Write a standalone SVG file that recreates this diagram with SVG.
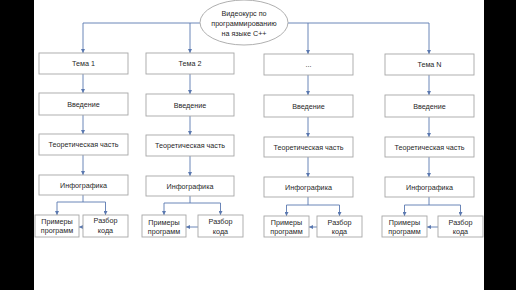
<svg xmlns="http://www.w3.org/2000/svg" width="516" height="290" viewBox="0 0 516 290">
<style>
.box{fill:#fff;stroke:#a6a6a6;stroke-width:0.9}
.t{font-family:"Liberation Sans",Arial,sans-serif;font-size:7.2px;fill:#1f1f1f;text-anchor:middle}
.c{fill:none;stroke:#5a78b0;stroke-width:0.9}
</style>
<defs>
<marker id="ah" viewBox="0 0 6 6" refX="6" refY="3" markerWidth="4" markerHeight="4" orient="auto" markerUnits="userSpaceOnUse">
<path d="M0,0 L6,3 L0,6 z" fill="#5a78b0"/>
</marker>
</defs>
<rect x="0" y="0" width="516" height="290" fill="#fff"/>
<rect x="0" y="0" width="34" height="290" fill="#000"/>
<rect x="484" y="0" width="32" height="290" fill="#000"/>
<g id="connectors">
<path class="c" d="M200,23 H83 V53" marker-end="url(#ah)"/>
<path class="c" d="M190,23 V53" marker-end="url(#ah)"/>
<path class="c" d="M288,23 H429 V54" marker-end="url(#ah)"/>
<path class="c" d="M308,23 V54" marker-end="url(#ah)"/>
<path class="c" d="M83,74 V93" marker-end="url(#ah)"/>
<path class="c" d="M83,115 V134" marker-end="url(#ah)"/>
<path class="c" d="M83,155 V175" marker-end="url(#ah)"/>
<path class="c" d="M190,74 V94" marker-end="url(#ah)"/>
<path class="c" d="M190,116 V135" marker-end="url(#ah)"/>
<path class="c" d="M190,156 V176" marker-end="url(#ah)"/>
<path class="c" d="M308,75 V95" marker-end="url(#ah)"/>
<path class="c" d="M308,117 V137" marker-end="url(#ah)"/>
<path class="c" d="M308,157 V177" marker-end="url(#ah)"/>
<path class="c" d="M429,75 V95" marker-end="url(#ah)"/>
<path class="c" d="M429,117 V137" marker-end="url(#ah)"/>
<path class="c" d="M429,157 V177" marker-end="url(#ah)"/>
<path class="c" d="M83,195 V202"/>
<path class="c" d="M83,202 H57 V215" marker-end="url(#ah)"/>
<path class="c" d="M83,202 H105.5 V215" marker-end="url(#ah)"/>
<path class="c" d="M83,227 H79" marker-end="url(#ah)"/>
<path class="c" d="M190,196 V203"/>
<path class="c" d="M190,203 H164 V215" marker-end="url(#ah)"/>
<path class="c" d="M190,203 H220.5 V215" marker-end="url(#ah)"/>
<path class="c" d="M198,227 H186" marker-end="url(#ah)"/>
<path class="c" d="M308,197 V205"/>
<path class="c" d="M308,205 H286.5 V216" marker-end="url(#ah)"/>
<path class="c" d="M308,205 H339.5 V216" marker-end="url(#ah)"/>
<path class="c" d="M317,227 H309" marker-end="url(#ah)"/>
<path class="c" d="M429,197 V205"/>
<path class="c" d="M429,205 H404.5 V216" marker-end="url(#ah)"/>
<path class="c" d="M429,205 H460.5 V216" marker-end="url(#ah)"/>
<path class="c" d="M438,227 H427" marker-end="url(#ah)"/>
</g>
<g id="root">
<ellipse class="box" cx="244" cy="22.5" rx="44" ry="22.5"/>
<text class="t" x="244" y="16">Видеокурс по</text>
<text class="t" x="244" y="26">программированию</text>
<text class="t" x="244" y="35.5">на языке С++</text>
</g>
<g id="tema1"><rect class="box" x="39" y="53" width="89" height="21"/><text class="t" x="83.5" y="66">Тема 1</text></g>
<g id="tema2"><rect class="box" x="146" y="53" width="88" height="21"/><text class="t" x="190" y="66">Тема 2</text></g>
<g id="tema3"><rect class="box" x="264" y="54" width="89" height="21"/><text class="t" x="308.5" y="67">...</text></g>
<g id="temaN"><rect class="box" x="385" y="54" width="89" height="21"/><text class="t" x="429.5" y="67">Тема N</text></g>
<g id="vved1"><rect class="box" x="39" y="93" width="89" height="22"/><text class="t" x="83.5" y="106.5">Введение</text></g>
<g id="vved2"><rect class="box" x="146" y="94" width="88" height="22"/><text class="t" x="190" y="107.5">Введение</text></g>
<g id="vved3"><rect class="box" x="264" y="95" width="89" height="22"/><text class="t" x="308.5" y="108.5">Введение</text></g>
<g id="vvedN"><rect class="box" x="385" y="95" width="89" height="22"/><text class="t" x="429.5" y="108.5">Введение</text></g>
<g id="teor1"><rect class="box" x="39" y="134" width="89" height="21"/><text class="t" x="83.5" y="147">Теоретическая часть</text></g>
<g id="teor2"><rect class="box" x="146" y="135" width="88" height="21"/><text class="t" x="190" y="148">Теоретическая часть</text></g>
<g id="teor3"><rect class="box" x="264" y="137" width="89" height="20"/><text class="t" x="308.5" y="149.5">Теоретическая часть</text></g>
<g id="teorN"><rect class="box" x="385" y="137" width="89" height="20"/><text class="t" x="429.5" y="149.5">Теоретическая часть</text></g>
<g id="info1"><rect class="box" x="39" y="175" width="89" height="20"/><text class="t" x="83.5" y="187.5">Инфографика</text></g>
<g id="info2"><rect class="box" x="146" y="176" width="88" height="20"/><text class="t" x="190" y="188.5">Инфографика</text></g>
<g id="info3"><rect class="box" x="264" y="177" width="89" height="20"/><text class="t" x="308.5" y="189.5">Инфографика</text></g>
<g id="infoN"><rect class="box" x="385" y="177" width="89" height="20"/><text class="t" x="429.5" y="189.5">Инфографика</text></g>
<g id="prim1"><rect class="box" x="35" y="215" width="44" height="22"/><text class="t" x="57" y="224">Примеры</text><text class="t" x="57" y="233">программ</text></g>
<g id="razb1"><rect class="box" x="83" y="215" width="45" height="22"/><text class="t" x="105.5" y="223">Разбор</text><text class="t" x="105.5" y="232.5">кода</text></g>
<g id="prim2"><rect class="box" x="142" y="215" width="44" height="22"/><text class="t" x="164" y="224.5">Примеры</text><text class="t" x="164" y="233.5">программ</text></g>
<g id="razb2"><rect class="box" x="198" y="215" width="45" height="22"/><text class="t" x="220.5" y="224">Разбор</text><text class="t" x="220.5" y="233.5">кода</text></g>
<g id="prim3"><rect class="box" x="264" y="216" width="45" height="21"/><text class="t" x="286.5" y="224.5">Примеры</text><text class="t" x="286.5" y="233.5">программ</text></g>
<g id="razb3"><rect class="box" x="317" y="216" width="45" height="21"/><text class="t" x="339.5" y="224.5">Разбор</text><text class="t" x="339.5" y="233.5">кода</text></g>
<g id="primN"><rect class="box" x="382" y="216" width="45" height="21"/><text class="t" x="404.5" y="224.5">Примеры</text><text class="t" x="404.5" y="233.5">программ</text></g>
<g id="razbN"><rect class="box" x="438" y="216" width="45" height="21"/><text class="t" x="460.5" y="224.5">Разбор</text><text class="t" x="460.5" y="233.5">кода</text></g>
</svg>
